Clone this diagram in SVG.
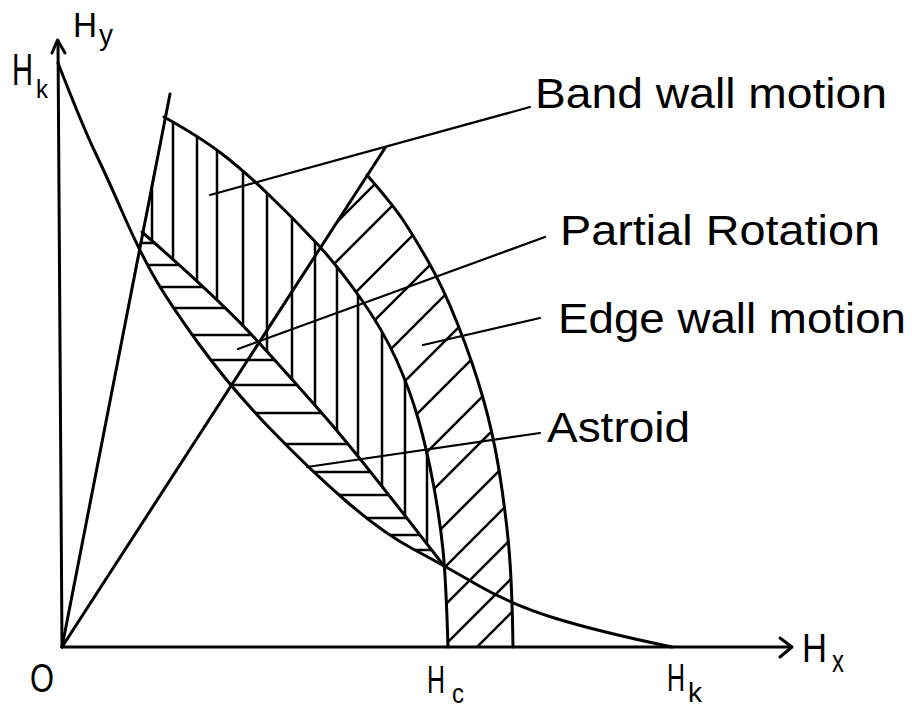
<svg xmlns="http://www.w3.org/2000/svg" width="912" height="708" viewBox="0 0 912 708">
<style>
.ln{stroke:#000;fill:none;stroke-width:3;stroke-linecap:round;stroke-linejoin:round}
.ht{stroke:#000;fill:none;stroke-width:2.5}
.ld{stroke:#000;fill:none;stroke-width:2.2;stroke-linecap:round}
text{font-family:"Liberation Sans",Arial,sans-serif;fill:#000}
.lb{font-size:42px}
</style>
<defs>
<clipPath id="cEdge"><path d="M367,175 L320,248 Q337,265 360,297.5 Q383,330 396.5,360 Q410,390 418.5,420 Q427,450 433.5,485 Q440,520 443,550 Q446,580 448,647 L513,647 Q512,580 508.5,543.5 Q505,507 499,470 Q493,433 483,398 Q473,363 458,325 Q443,287 428,261 Q413,235 403,220 Q393,205 367,175 Z"/></clipPath>
<clipPath id="cBand"><path d="M164,117 L142,232 Q220,300 256.5,340 Q293,380 326.5,418.5 Q360,457 444,566 L443,550 Q440,520 433.5,485 Q427,450 418.5,420 Q410,390 396.5,360 Q383,330 360,297.5 Q337,265 315,241.5 Q293,218 268,194 Q243,170 221.5,153.5 Q200,137 164,117 Z"/></clipPath>
<clipPath id="cPart"><path d="M142,232 Q220,300 256.5,340 Q293,380 326.5,418.5 Q360,457 444,566 L413,549 Q383,533 346.5,501.5 Q310,470 270,428.5 Q230,387 198.5,343.5 Q167,300 152.5,274 L138.5,248 Z"/></clipPath>
</defs>
<rect width="912" height="708" fill="#fff"/>
<g id="hatch-band" clip-path="url(#cBand)">
<path class="ht" d="M152,90V600M173,90V600M197,90V600M217,90V600M243,90V600M267,90V600M292,90V600M315,90V600M337,90V600M358,90V600M382,90V600M405,90V600M427,90V600"/>
</g>
<g id="hatch-partial" clip-path="url(#cPart)">
<path class="ht" d="M100,243H470M100,265H470M100,287H470M100,308H470M100,335H470M100,360H470M100,385H470M100,413H470M100,444H470M100,472H470M100,495H470M100,518H470M100,535H470M100,550H470"/>
</g>
<g id="hatch-edge" clip-path="url(#cEdge)">
<path class="ht" d="M459,100L-101,660M498,100L-62,660M548,100L-12,660M595,100L35,660M640,100L80,660M686,100L126,660M731,100L171,660M779,100L219,660M823,100L263,660M870,100L310,660M912,100L352,660M950,100L390,660M990,100L430,660M1024,100L464,660"/>
</g>
<g id="axes">
<path class="ln" d="M62,647L58,41"/>
<path class="ln" d="M52,53L57.5,40L65,53"/>
<path class="ln" d="M62,647L791,647"/>
<path class="ln" d="M780,638L792,647L780,657"/>
</g>
<g id="curves">
<path id="astroid" class="ln" d="M58,63 Q83,127 95,152 Q107,177 122.5,212.5 Q138,248 152.5,274 Q167,300 198.5,343.5 Q230,387 270,428.5 Q310,470 346.5,501.5 Q383,533 413,549 Q443,565 477.5,585 Q512,605 556,618.5 Q600,632 672,647"/>
<path id="inner-arc" class="ln" d="M164,117 Q200,137 221.5,153.5 Q243,170 268,194 Q293,218 315,241.5 Q337,265 360,297.5 Q383,330 396.5,360 Q410,390 418.5,420 Q427,450 433.5,485 Q440,520 443,550 Q446,580 448,647"/>
<path id="outer-arc" class="ln" d="M367,175 Q393,205 403,220 Q413,235 428,261 Q443,287 458,325 Q473,363 483,398 Q493,433 499,470 Q505,507 508.5,543.5 Q512,580 513,647"/>
<path id="partial-upper" class="ln" d="M142,232 Q220,300 256.5,340 Q293,380 326.5,418.5 Q360,457 444,566"/>
<path id="steep-line" class="ln" d="M62,647L170,94"/>
<path id="diag-line" class="ln" d="M62,647L385,148"/>
</g>
<g id="leaders">
<path class="ld" d="M210,195L530,107"/>
<path class="ld" d="M238,349L545,237"/>
<path class="ld" d="M423,345L540,318"/>
<path class="ld" d="M307,467L540,433"/>
</g>
<g id="labels">
<text class="lb" x="535" y="108" textLength="352" lengthAdjust="spacingAndGlyphs">Band wall motion</text>
<text class="lb" x="560" y="245" font-size="44" textLength="320" lengthAdjust="spacingAndGlyphs">Partial Rotation</text>
<text class="lb" x="558" y="333" textLength="348" lengthAdjust="spacingAndGlyphs">Edge wall motion</text>
<text class="lb" x="547" y="442" font-size="40" textLength="143" lengthAdjust="spacingAndGlyphs">Astroid</text>
<text x="30" y="692" font-size="40" textLength="24" lengthAdjust="spacingAndGlyphs">O</text>
<text x="427" y="693" font-size="39"><tspan textLength="18" lengthAdjust="spacingAndGlyphs">H</tspan><tspan x="452" y="703" font-size="28" textLength="12" lengthAdjust="spacingAndGlyphs">c</tspan></text>
<text x="667" y="691" font-size="39"><tspan textLength="18" lengthAdjust="spacingAndGlyphs">H</tspan><tspan x="688" y="702" font-size="28" textLength="14" lengthAdjust="spacingAndGlyphs">k</tspan></text>
<text x="802" y="662" font-size="40"><tspan textLength="25" lengthAdjust="spacingAndGlyphs">H</tspan><tspan x="832" y="672" font-size="32" textLength="12" lengthAdjust="spacingAndGlyphs">x</tspan></text>
<text x="73" y="37" font-size="35"><tspan textLength="24" lengthAdjust="spacingAndGlyphs">H</tspan><tspan x="99" y="45" font-size="30" textLength="14" lengthAdjust="spacingAndGlyphs">y</tspan></text>
<text x="12" y="85" font-size="44"><tspan textLength="21" lengthAdjust="spacingAndGlyphs">H</tspan><tspan x="36" y="98" font-size="26" textLength="12" lengthAdjust="spacingAndGlyphs">k</tspan></text>
</g>
</svg>
